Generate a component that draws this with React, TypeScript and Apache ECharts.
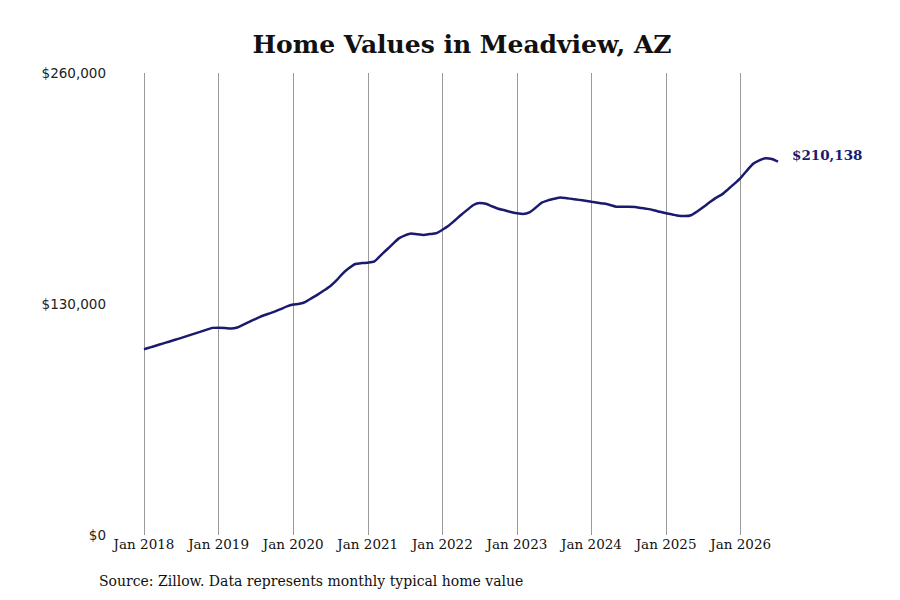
import React, { useEffect, useRef } from "react";
import * as echarts from "echarts";

const MONTHS = ["Jan", "Feb", "Mar", "Apr", "May", "Jun", "Jul", "Aug", "Sep", "Oct", "Nov", "Dec"];
const START_YEAR = 2018;

const homeValues: number[] = [
  104500, 105580, 106650, 107720, 108790, 109860, 110930, 112050, 113180, 114300, 115430, 116560,
  116670, 116500, 116220, 116780, 118410, 120040, 121680, 123250, 124490, 125670, 127140, 128660,
  129670, 130120, 131245, 133330, 135410, 137720, 140140, 143400, 147280, 150270, 152520, 153030,
  153250, 153810, 157080, 160400, 163660, 166930, 168670, 169740, 169230, 168900, 169350, 169800,
  171770, 174020, 177000, 180100, 182970, 185720, 186790, 186400, 184940, 183590, 182740, 181780,
  181050, 180600, 181500, 184150, 187020, 188310, 189210, 190000, 189550, 189040, 188600, 188090,
  187530, 187020, 186510, 185720, 184770, 184770, 184770, 184600, 184040, 183530, 182800, 181900,
  181050, 180380, 179650, 179530, 179960, 182070, 184550, 187240, 189720, 191690, 194670, 197710,
  201030, 205080, 208970, 210880, 212010, 211610, 210138,
];

const monthLabels: string[] = homeValues.map(
  (_, i) => `${MONTHS[i % 12]} ${START_YEAR + Math.floor(i / 12)}`
);

const yTicks = { min: 0, max: 260000, interval: 130000 };
const TITLE = "Home Values in Meadview, AZ";
const SOURCE = "Source: Zillow. Data represents monthly typical home value";
const END_LABEL = "$210,138";

const fmtMoney = (v: number) => "$" + Math.round(v).toLocaleString("en-US");

export default function App() {
  const ref = useRef<HTMLDivElement>(null);
  useEffect(() => {
    document.body.style.margin = "0";
    if (!ref.current) return;
    const chart = echarts.init(ref.current, null, { renderer: "svg" });
    const serif = "DejaVu Serif";
    chart.setOption({
      animation: false,
      backgroundColor: "#ffffff",
      grid: { left: 144, right: 122, top: 73, bottom: 65, containLabel: false },
      graphic: [
        {
          type: "text",
          x: 462,
          y: 44,
          style: {
            text: TITLE,
            fontFamily: serif,
            fontWeight: "bold",
            fontSize: 25,
            fill: "#111111",
            textAlign: "center",
            textVerticalAlign: "middle",
          },
        },
        {
          type: "text",
          x: 99,
          y: 581,
          style: {
            text: SOURCE,
            fontFamily: serif,
            fontSize: 14,
            fill: "#111111",
            textAlign: "left",
            textVerticalAlign: "middle",
          },
        },
      ],
      xAxis: {
        type: "category",
        data: monthLabels,
        boundaryGap: false,
        axisLine: { show: false },
        axisTick: { show: false },
        axisLabel: {
          interval: (index: number) => index % 12 === 0,
          fontFamily: serif,
          fontSize: 13.5,
          color: "#111111",
          margin: 2,
        },
        splitLine: {
          show: true,
          interval: (index: number) => index % 12 === 0,
          lineStyle: { color: "#9a9a9a", width: 1 },
        },
      },
      yAxis: {
        type: "value",
        min: yTicks.min,
        max: yTicks.max,
        interval: yTicks.interval,
        axisLine: { show: false },
        axisTick: { show: false },
        splitLine: { show: false },
        axisLabel: {
          formatter: (v: number) => fmtMoney(v),
          fontFamily: "DejaVu Sans",
          fontSize: 13.5,
          color: "#222222",
          margin: 38,
        },
      },
      series: [
        {
          type: "line",
          data: homeValues,
          showSymbol: false,
          symbol: "none",
          smooth: 0.2,
          lineStyle: { color: "#1a1a6e", width: 2.5 },
          endLabel: {
            show: true,
            formatter: () => END_LABEL,
            fontFamily: serif,
            fontWeight: "bold",
            fontSize: 13.5,
            color: "#1a1a6e",
            distance: 14,
            offset: [0, -7],
          },
        },
      ],
    });
    return () => chart.dispose();
  }, []);
  return <div ref={ref} style={{ width: 900, height: 600 }} />;
}
